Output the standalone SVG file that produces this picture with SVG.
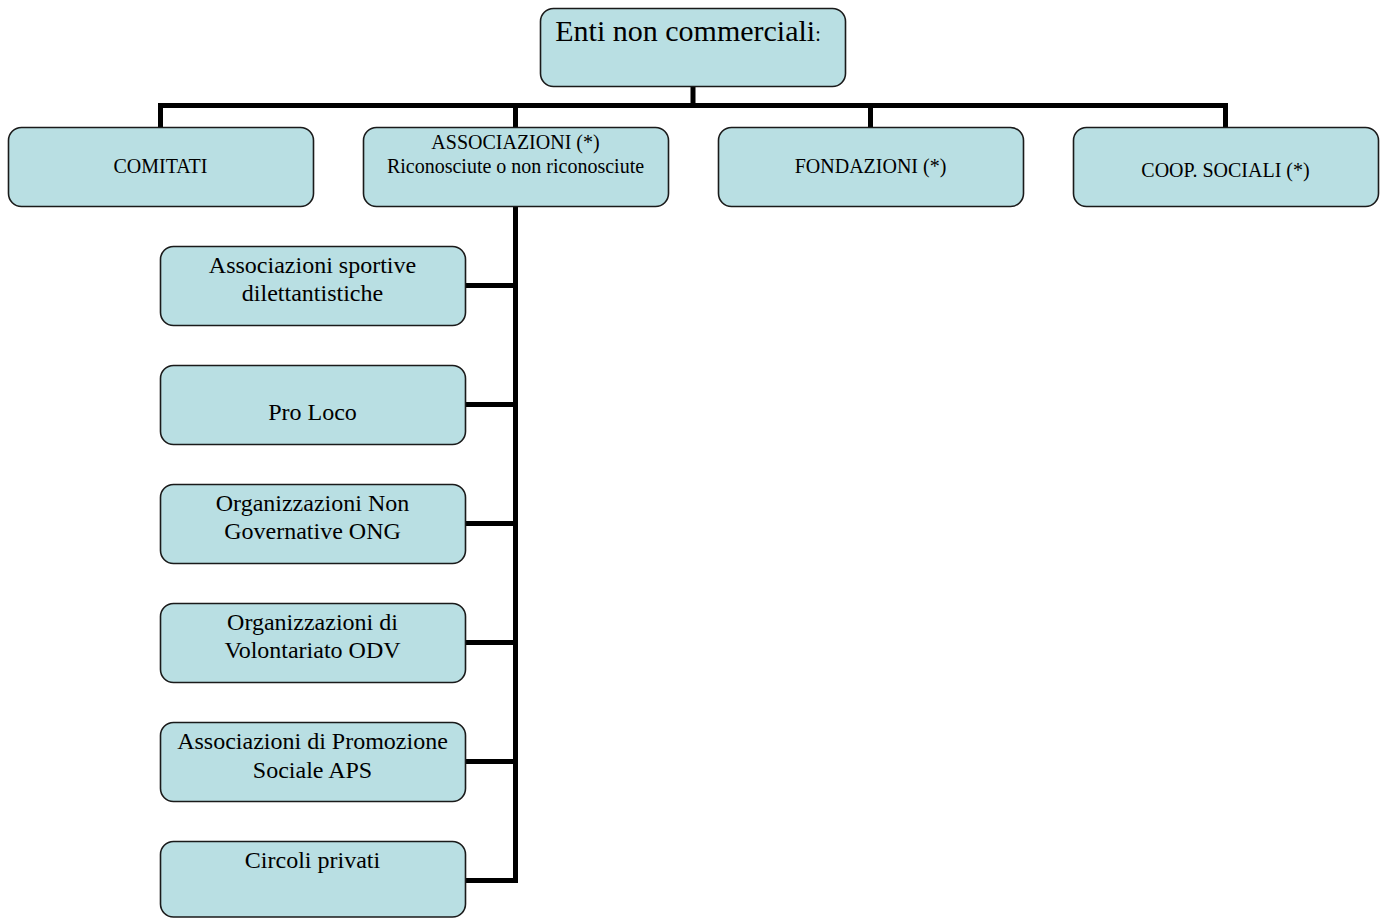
<svg xmlns="http://www.w3.org/2000/svg" width="1384" height="918" viewBox="0 0 1384 918">
<style>
.box{fill:#b9dfe3;stroke:#1a1a1a;stroke-width:1.6}
.conn{fill:none;stroke:#000;stroke-width:5;stroke-linecap:butt;stroke-linejoin:miter}
text{font-family:"Liberation Serif","Times New Roman",serif;fill:#000;text-anchor:middle}
.t1{font-size:30px}
.t2{font-size:20px}
.t3{font-size:24px}
</style>
<rect width="1384" height="918" fill="#fff"/>
<g id="connectors">
<path class="conn" d="M693 86V105.5M160.5 127V105.5H1225.5V127M515.5 105.5V127M870.5 105.5V127"/>
<path class="conn" d="M515.5 206V880.5H465M465 285.5H515.5M465 404.5H515.5M465 523.5H515.5M465 642.5H515.5M465 761.5H515.5"/>
</g>
<g id="root">
<rect class="box" x="540.5" y="8.5" width="305" height="78" rx="13"/>
<text x="688" y="41" class="t1">Enti non commerciali<tspan font-size="20px">:</tspan></text>
</g>
<g id="comitati">
<rect class="box" x="8.5" y="127.5" width="305" height="79" rx="13"/>
<text x="160.5" y="173" class="t2">COMITATI</text>
</g>
<g id="associazioni">
<rect class="box" x="363.5" y="127.5" width="305" height="79" rx="13"/>
<text x="515.5" y="149" class="t2">ASSOCIAZIONI (*)</text>
<text x="515.5" y="173" class="t2">Riconosciute o non riconosciute</text>
</g>
<g id="fondazioni">
<rect class="box" x="718.5" y="127.5" width="305" height="79" rx="13"/>
<text x="870.5" y="173" class="t2">FONDAZIONI (*)</text>
</g>
<g id="coop">
<rect class="box" x="1073.5" y="127.5" width="305" height="79" rx="13"/>
<text x="1225.5" y="177" class="t2">COOP. SOCIALI (*)</text>
</g>
<g id="asd">
<rect class="box" x="160.5" y="246.5" width="305" height="79" rx="13"/>
<text x="312.5" y="273" class="t3">Associazioni sportive</text>
<text x="312.5" y="301" class="t3">dilettantistiche</text>
</g>
<g id="proloco">
<rect class="box" x="160.5" y="365.5" width="305" height="79" rx="13"/>
<text x="312.5" y="420" class="t3">Pro Loco</text>
</g>
<g id="ong">
<rect class="box" x="160.5" y="484.5" width="305" height="79" rx="13"/>
<text x="312.5" y="511" class="t3">Organizzazioni Non</text>
<text x="312.5" y="539" class="t3">Governative ONG</text>
</g>
<g id="odv">
<rect class="box" x="160.5" y="603.5" width="305" height="79" rx="13"/>
<text x="312.5" y="630" class="t3">Organizzazioni di</text>
<text x="312.5" y="658" class="t3">Volontariato ODV</text>
</g>
<g id="aps">
<rect class="box" x="160.5" y="722.5" width="305" height="79" rx="13"/>
<text x="312.5" y="749" class="t3">Associazioni di Promozione</text>
<text x="312.5" y="778" class="t3">Sociale APS</text>
</g>
<g id="circoli">
<rect class="box" x="160.5" y="841.5" width="305" height="75.5" rx="13"/>
<text x="312.5" y="868" class="t3">Circoli privati</text>
</g>
</svg>
